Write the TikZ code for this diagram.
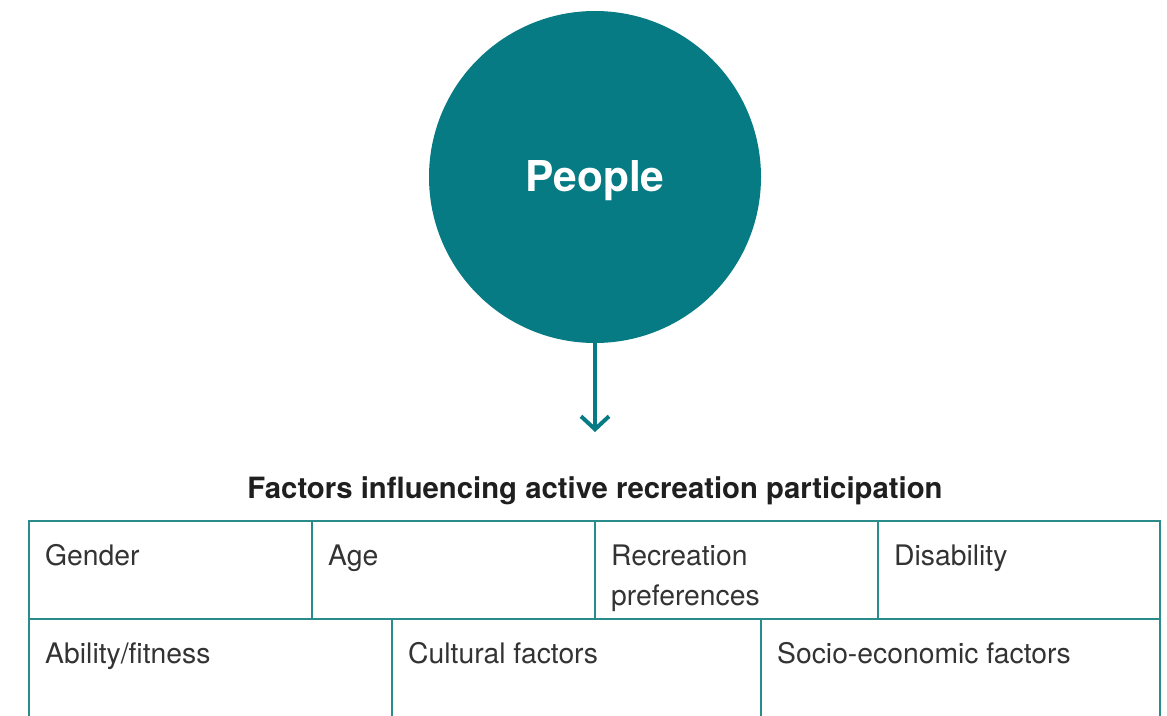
\documentclass[tikz,border=0pt]{standalone}
\usepackage{fontspec}
\setmainfont{TeX Gyre Heros}
\usetikzlibrary{arrows.meta, positioning}
\definecolor{teal}{HTML}{077B83}
\definecolor{gridline}{HTML}{2A8B8B}
\definecolor{ink}{HTML}{333333}
\tikzset{>={Straight Barb[length=13pt, width=28pt, line width=4pt]}}

\begin{document}
\begin{tikzpicture}[x=1pt, y=-1pt, line cap=round,
	cell/.style={anchor=base west, inner sep=0pt, text=ink, font=\fontsize{28.3}{40}\selectfont, align=left}]
	\useasboundingbox (0,0) rectangle (1167,715);
	\node[circle, fill=teal, minimum size=332pt, inner sep=0pt] (P) at (595,177) {};
	\node[anchor=base, inner sep=0pt, text=white, font=\fontsize{42.5}{48}\selectfont\bfseries] (name) at (595,191) {People};
	\coordinate (T) at (595,432);
	\draw [->, teal, line width=4pt](P.south)  to (T)  ;
	\node[anchor=base, inner sep=0pt, text=black!88, font=\fontsize{29.3}{34}\selectfont\bfseries] (title) at (595,498) {Factors influencing active recreation participation};
	% table grid
	\draw[gridline, line width=2pt, line cap=butt] (29,716) -- (29,521) -- (1160,521) -- (1160,716)
		(29,619) -- (1160,619)
		(312,521) -- (312,619) (595,521) -- (595,619) (878,521) -- (878,619)
		(392,619) -- (392,716) (761,619) -- (761,716);
	\node[cell] (gender) at (45,565) {Gender};
	\node[cell] (age) at (328,565) {Age};
	\node[cell] (pref) at (611,605) {Recreation\\preferences};
	\node[cell] (dis) at (894,565) {Disability};
	\node[cell] (abil) at (45,663) {Ability/fitness};
	\node[cell] (cult) at (408,663) {Cultural factors};
	\node[cell] (socio) at (777,663) {Socio-economic factors};
\end{tikzpicture}
\end{document}
